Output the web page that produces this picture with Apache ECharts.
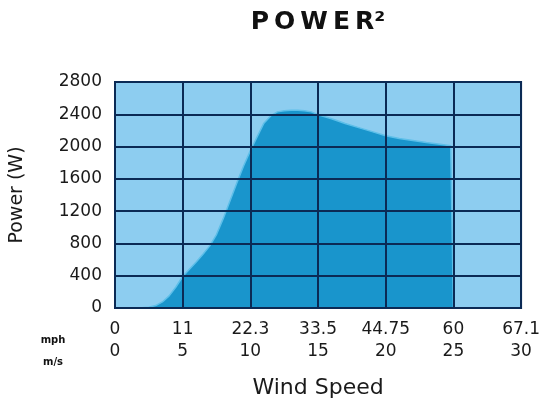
<!DOCTYPE html>
<html>
<head>
<meta charset="utf-8">
<script src="https://cdn.jsdelivr.net/npm/echarts@6/dist/echarts.min.js"></script>
<style>
  html, body { margin: 0; padding: 0; background: #fff; }
  #chart { width: 543px; height: 404px; }
</style>
</head>
<body>
<div id="chart"></div>
<script>
// wind speed in m/s, power in W
const windSpeed = [0, 1, 2, 2.5, 3, 3.5, 4, 4.5, 5, 5.5, 6, 6.5, 7, 7.5, 8, 8.5, 9, 9.5, 10, 10.5, 11, 11.5, 12, 12.5, 13, 13.5, 14, 14.5, 15, 16, 17, 18, 19, 20, 21, 22, 23, 24, 24.8, 25]
const power = [0, 0, 2, 10, 30, 75, 150, 260, 390, 480, 570, 665, 770, 910, 1110, 1330, 1550, 1760, 1950, 2120, 2290, 2380, 2430, 2445, 2450, 2450, 2445, 2430, 2395, 2345, 2285, 2235, 2185, 2135, 2100, 2075, 2050, 2030, 2010, 0]
// tick labels of the two x rows
const msTicks = [0, 5, 10, 15, 20, 25, 30]
const mphTicks = ['0', '11', '22.3', '33.5', '44.75', '60', '67.1']
const powerTicks = [0, 400, 800, 1200, 1600, 2000, 2400, 2800]

const font = 'DejaVu Sans'
const navy = '#0b2a55'
const ink = '#1a1a1a'

const chart = echarts.init(document.getElementById('chart'))
chart.setOption({
  animation: false,
  grid: {
    left: 111,
    right: 17,
    top: 82,
    bottom: 86,
    show: true,
    backgroundColor: '#8dcdf0',
    borderColor: navy,
    borderWidth: 2,
  },
  graphic: [
    {
      type: 'text',
      x: 318,
      y: 22,
      z: 10,
      style: {
        text: 'P\u2009O\u2009W\u2009E\u2009R²',
        font: 'bold 25px "DejaVu Sans"',
        fill: '#111',
        align: 'center',
        verticalAlign: 'middle',
      },
    },
    {
      type: 'text',
      x: 53,
      y: 340,
      z: 10,
      style: { text: 'mph', font: 'bold 10px "DejaVu Sans"', fill: '#111', align: 'center', verticalAlign: 'middle' },
    },
    {
      type: 'text',
      x: 53,
      y: 362,
      z: 10,
      style: { text: 'm/s', font: 'bold 10px "DejaVu Sans"', fill: '#111', align: 'center', verticalAlign: 'middle' },
    },
  ],
  xAxis: {
    type: 'value',
    min: 0,
    max: 30,
    interval: 5,
    z: 5,
    name: 'Wind Speed',
    nameLocation: 'middle',
    nameGap: 69,
    nameTextStyle: { fontFamily: font, fontSize: 22, color: ink },
    axisLine: { show: true, lineStyle: { color: navy, width: 2 } },
    axisTick: { show: false },
    splitLine: { show: true, lineStyle: { color: navy, width: 2 } },
    axisLabel: {
      margin: 11,
      formatter: (v) => {
        const i = msTicks.indexOf(v)
        return '{m|' + mphTicks[i] + '}\n{s|' + v + '}'
      },
      rich: {
        m: { fontFamily: font, fontSize: 17, color: ink, lineHeight: 22 },
        s: { fontFamily: font, fontSize: 17, color: ink, lineHeight: 22 },
      },
    },
  },
  yAxis: {
    type: 'value',
    min: 0,
    max: 2800,
    interval: 400,
    z: 5,
    name: 'Power (W)',
    nameLocation: 'middle',
    nameGap: 88,
    nameTextStyle: { fontFamily: font, fontSize: 19, color: ink },
    axisLine: { show: true, lineStyle: { color: navy, width: 2 } },
    axisTick: { show: false },
    splitLine: { show: true, lineStyle: { color: navy, width: 2 } },
    axisLabel: {
      margin: 13,
      fontFamily: font,
      fontSize: 17,
      color: ink,
      formatter: (v) => (powerTicks.includes(v) ? String(v) : ''),
    },
  },
  series: [
    {
      type: 'line',
      data: windSpeed.map((x, i) => [x, power[i]]),
      showSymbol: false,
      smooth: false,
      lineStyle: { color: '#5dbfe9', width: 1.5 },
      areaStyle: { color: '#1995cc', opacity: 1 },
      z: 1,
    },
  ],
})
</script>
</body>
</html>
